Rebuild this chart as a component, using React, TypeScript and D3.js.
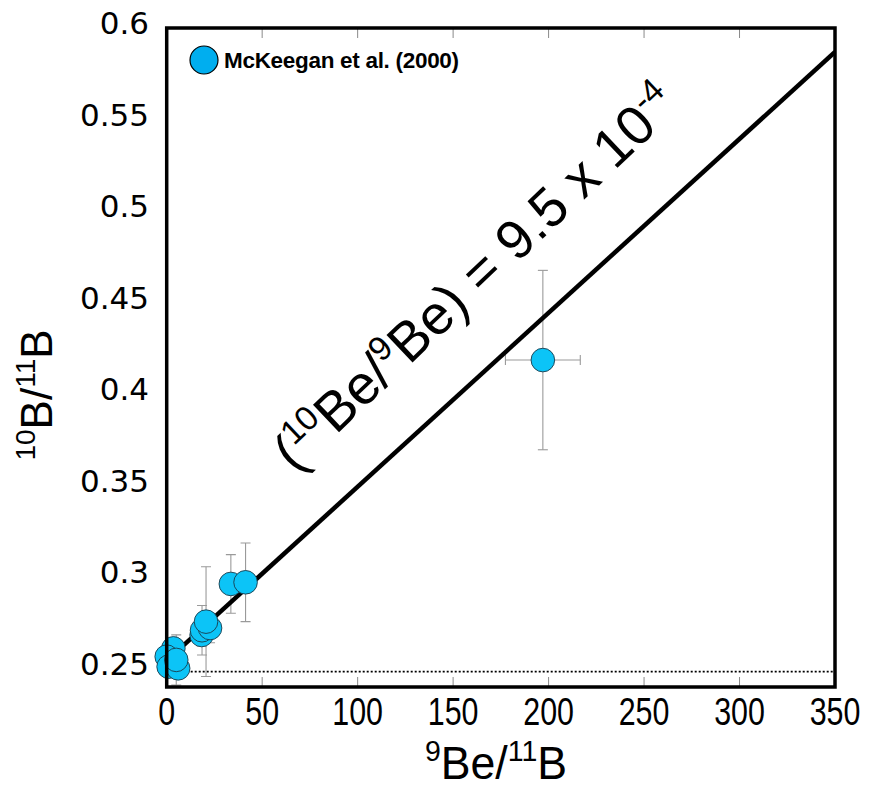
import React from "react";
import * as d3 from "d3";

// ---- data ----
const xTicks = [0, 50, 100, 150, 200, 250, 300, 350];
const yTicks = [0.25, 0.3, 0.35, 0.4, 0.45, 0.5, 0.55, 0.6];
const innerTicks = [50, 100, 150, 200, 250, 300];

// points: 9Be/11B, 10B/11B, x error, y error
const beRatio = [3.5, 0, 1, 6, 5, 18.3, 18.5, 22.7, 20.6, 33.6, 41.3, 197];
const bRatio = [0.2611, 0.2566, 0.2511, 0.2502, 0.2548, 0.2684, 0.271, 0.2722, 0.2757, 0.2963, 0.2972, 0.4186];
const xErr = [0, 0, 0, 0, 0, 0, 0, 0, 0, 0, 0, 19.6];
const yErr = [0.004, 0.003, 0.003, 0.003, 0.0137, 0.006, 0.0135, 0.008, 0.03, 0.016, 0.0215, 0.049];

const slope = 9.5e-4;
const intercept = 0.2544;
const chondritic = 0.2484;
const legendLabel = "McKeegan et al. (2000)";

const W = 870;
const H = 791;
const L = 166.7, R = 835, T = 28, B = 687;

export default function App() {
  const x = d3.scaleLinear().domain([0, 350]).range([L, R]);
  const y = d3.scaleLinear().domain([0.24, 0.6]).range([B, T]);
  const line = d3.line<number>().x((d) => x(d)).y((d) => y(intercept + slope * d));
  const pts = beRatio.map((b, i) => ({ x: b, y: bRatio[i], ex: xErr[i], ey: yErr[i] }));
  const fill = "#0cc4f7";
  const errColor = "#9a9a9a";

  return (
    <svg width={W} height={H} style={{ position: "absolute", left: 0, top: 0, background: "#fff" }}>
      <defs>
        <clipPath id="plot">
          <rect x={L} y={T} width={R - L} height={B - T} />
        </clipPath>
      </defs>
      {/* inner ticks */}
      {innerTicks.map((t) => (
        <g key={t} stroke="#8a8a8a" strokeWidth={1}>
          <line x1={x(t)} x2={x(t)} y1={B} y2={B - 10} />
          <line x1={x(t)} x2={x(t)} y1={T} y2={T + 10} />
        </g>
      ))}
      <g clipPath="url(#plot)">
        {/* chondritic dotted line */}
        <line x1={x(0)} x2={x(350)} y1={y(chondritic)} y2={y(chondritic)} stroke="#000" strokeWidth={1.6} strokeDasharray="2,2" />
        {/* error bars */}
        {pts.map((p, i) => (
          <g key={"e" + i} stroke={errColor} strokeWidth={1.1}>
            <line x1={x(p.x)} x2={x(p.x)} y1={y(p.y - p.ey)} y2={y(p.y + p.ey)} />
            <line x1={x(p.x) - 5} x2={x(p.x) + 5} y1={y(p.y - p.ey)} y2={y(p.y - p.ey)} />
            <line x1={x(p.x) - 5} x2={x(p.x) + 5} y1={y(p.y + p.ey)} y2={y(p.y + p.ey)} />
            {p.ex > 0 && (
              <g>
                <line x1={x(p.x - p.ex)} x2={x(p.x + p.ex)} y1={y(p.y)} y2={y(p.y)} />
                <line x1={x(p.x - p.ex)} x2={x(p.x - p.ex)} y1={y(p.y) - 5} y2={y(p.y) + 5} />
                <line x1={x(p.x + p.ex)} x2={x(p.x + p.ex)} y1={y(p.y) - 5} y2={y(p.y) + 5} />
              </g>
            )}
          </g>
        ))}
        {/* isochron line */}
        <path d={line([0, 350]) || ""} stroke="#000" strokeWidth={4.5} fill="none" />
      </g>
      {/* points */}
      {pts.map((p, i) => (
        <circle key={"c" + i} cx={x(p.x)} cy={y(p.y)} r={11.8} fill={fill} stroke="#1a3a4a" strokeWidth={0.9} />
      ))}
      {/* frame */}
      <rect x={L} y={T} width={R - L} height={B - T} fill="none" stroke="#000" strokeWidth={3.5} />

      {/* y tick labels */}
      {yTicks.map((t) => (
        <text key={t} x={149} y={y(t) + 6} textAnchor="end" fontFamily="DejaVu Sans" fontSize={31} fill="#000">
          {String(t)}
        </text>
      ))}
      {/* x tick labels */}
      {xTicks.map((t) => (
        <g key={t} transform={`translate(${x(t)},${B + 38}) scale(0.8,1)`}>
          <text textAnchor="middle" fontFamily="Liberation Sans" fontSize={38} fill="#000">
            {String(t)}
          </text>
        </g>
      ))}

      {/* x title */}
      <g transform={`translate(496,779) scale(0.95,1)`}>
        <text textAnchor="middle" fontFamily="Liberation Sans" fontSize={47} fill="#000">
          <tspan fontSize={30} dy={-18}>9</tspan>
          <tspan dy={18}>Be/</tspan>
          <tspan fontSize={30} dy={-18}>11</tspan>
          <tspan dy={18}>B</tspan>
        </text>
      </g>
      {/* y title */}
      <g transform={`translate(52,395) rotate(-90)`}>
        <text textAnchor="middle" fontFamily="Liberation Sans" fontSize={44} fill="#000">
          <tspan fontSize={28} dy={-17}>10</tspan>
          <tspan dy={17}>B/</tspan>
          <tspan fontSize={28} dy={-17}>11</tspan>
          <tspan dy={17}>B</tspan>
        </text>
      </g>

      {/* annotation */}
      <g transform="translate(295,474) rotate(-43.5)">
        <text fontFamily="Liberation Sans" fontSize={55} fill="#000">
          <tspan>(</tspan>
          <tspan fontSize={34} dy={-21}>10</tspan>
          <tspan dy={21}>Be/</tspan>
          <tspan fontSize={34} dy={-21}>9</tspan>
          <tspan dy={21}>Be) = 9.5 x 10</tspan>
          <tspan fontSize={34} dy={-21}>-4</tspan>
        </text>
      </g>

      {/* legend */}
      <circle cx={204} cy={60} r={14} fill="#00aeef" stroke="#000" strokeWidth={1.2} />
      <text x={224} y={68} fontFamily="Liberation Sans" fontWeight="bold" fontSize={22.5} letterSpacing={-0.3} fill="#000">
        {legendLabel}
      </text>
    </svg>
  );
}
